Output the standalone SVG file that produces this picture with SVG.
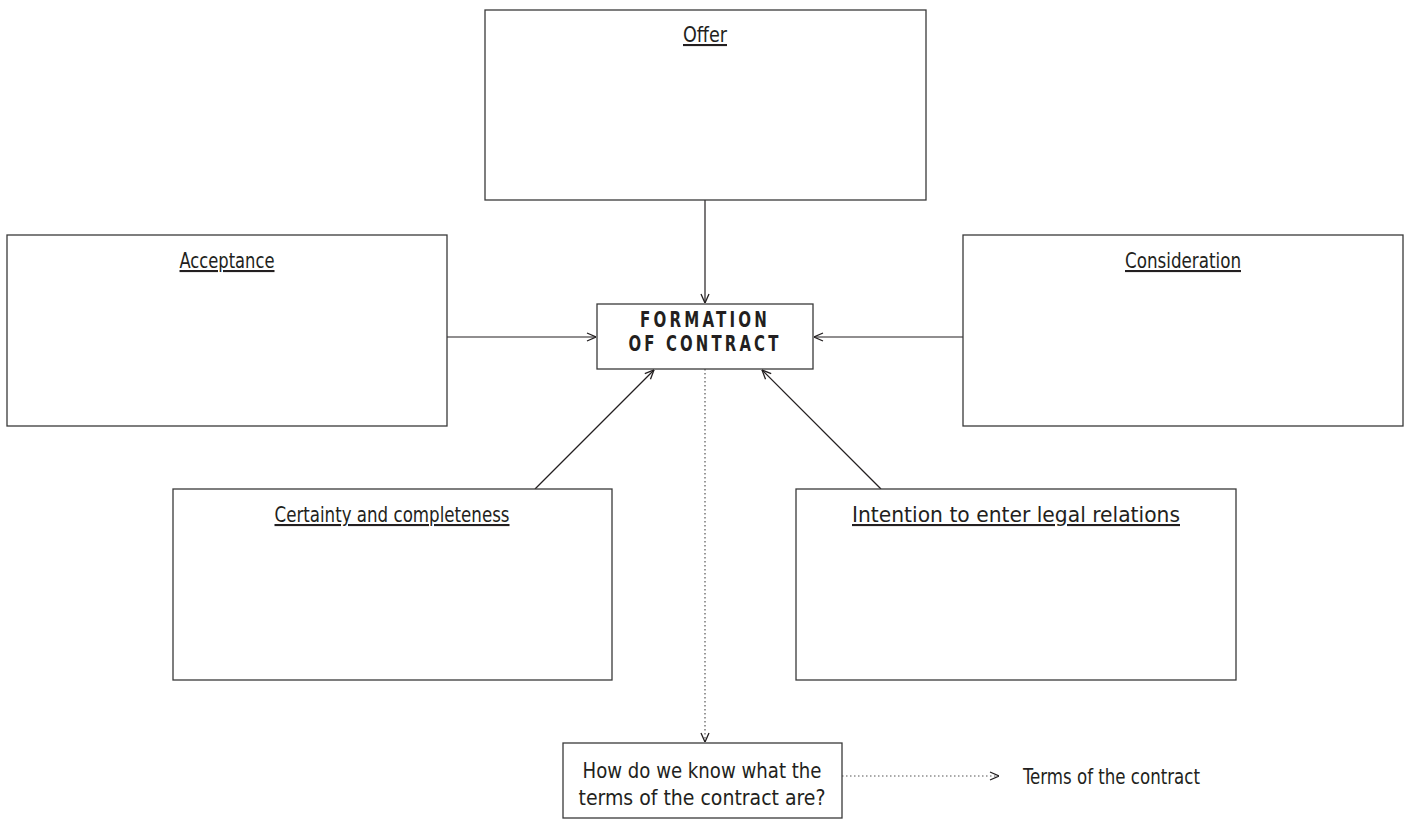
<svg xmlns="http://www.w3.org/2000/svg" width="1404" height="820" viewBox="0 0 1404 820">
<style>
.box{fill:#fff;stroke:#3a3a3a;stroke-width:1.3}
.t{font-family:"Liberation Sans Narrow","DejaVu Sans Condensed","Liberation Sans",sans-serif;font-size:21px;fill:#231f20}
.u{text-decoration:underline}
.h{font-family:"Liberation Sans Narrow","DejaVu Sans Condensed","Liberation Sans",sans-serif;font-weight:bold;font-size:21px;fill:#231f20;letter-spacing:4px}
.c{fill:none;stroke:#231f20;stroke-width:1.2}
.d{fill:none;stroke:#555;stroke-width:1.2;stroke-dasharray:1.5 2.5}
</style>
<defs>
<marker id="ah" viewBox="0 0 10 10" refX="10" refY="5" markerWidth="10" markerHeight="10" markerUnits="userSpaceOnUse" orient="auto">
<path d="M1,1 L10,5 L1,9" fill="none" stroke="#231f20" stroke-width="1.3"/>
</marker>
</defs>
<g id="connectors">
<line class="c" x1="705" y1="200" x2="705" y2="303" marker-end="url(#ah)"/>
<line class="c" x1="447" y1="337" x2="596" y2="337" marker-end="url(#ah)"/>
<line class="c" x1="963" y1="337" x2="814" y2="337" marker-end="url(#ah)"/>
<line class="c" x1="535" y1="489" x2="654" y2="370" marker-end="url(#ah)"/>
<line class="c" x1="881" y1="489" x2="762" y2="370" marker-end="url(#ah)"/>
<line class="d" x1="705" y1="369" x2="705" y2="742" marker-end="url(#ah)"/>
<line class="d" x1="842" y1="776" x2="999" y2="776" marker-end="url(#ah)"/>
</g>
<g id="offer">
<rect class="box" x="485" y="10" width="441" height="190"/>
<text class="t u" x="705" y="42" text-anchor="middle" textLength="44" lengthAdjust="spacingAndGlyphs">Offer</text>
</g>
<g id="acceptance">
<rect class="box" x="7" y="235" width="440" height="191"/>
<text class="t u" x="227" y="268" text-anchor="middle" textLength="95" lengthAdjust="spacingAndGlyphs">Acceptance</text>
</g>
<g id="consideration">
<rect class="box" x="963" y="235" width="440" height="191"/>
<text class="t u" x="1183" y="268" text-anchor="middle" textLength="116" lengthAdjust="spacingAndGlyphs">Consideration</text>
</g>
<g id="formation">
<rect class="box" x="597" y="304" width="216" height="65"/>
<text class="h" x="705" y="327" text-anchor="middle" textLength="130" lengthAdjust="spacingAndGlyphs">FORMATION</text>
<text class="h" x="705" y="351" text-anchor="middle" textLength="153" lengthAdjust="spacingAndGlyphs">OF CONTRACT</text>
</g>
<g id="certainty">
<rect class="box" x="173" y="489" width="439" height="191"/>
<text class="t u" x="392" y="522" text-anchor="middle" textLength="235" lengthAdjust="spacingAndGlyphs">Certainty and completeness</text>
</g>
<g id="intention">
<rect class="box" x="796" y="489" width="440" height="191"/>
<text class="t u" x="1016" y="522" text-anchor="middle" textLength="328" lengthAdjust="spacingAndGlyphs">Intention to enter legal relations</text>
</g>
<g id="how">
<rect class="box" x="563" y="743" width="279" height="75"/>
<text class="t" x="702" y="778" text-anchor="middle" textLength="239" lengthAdjust="spacingAndGlyphs">How do we know what the</text>
<text class="t" x="702" y="805" text-anchor="middle" textLength="247" lengthAdjust="spacingAndGlyphs">terms of the contract are?</text>
</g>
<g id="terms">
<text class="t" x="1023" y="784" textLength="177" lengthAdjust="spacingAndGlyphs">Terms of the contract</text>
</g>
</svg>
